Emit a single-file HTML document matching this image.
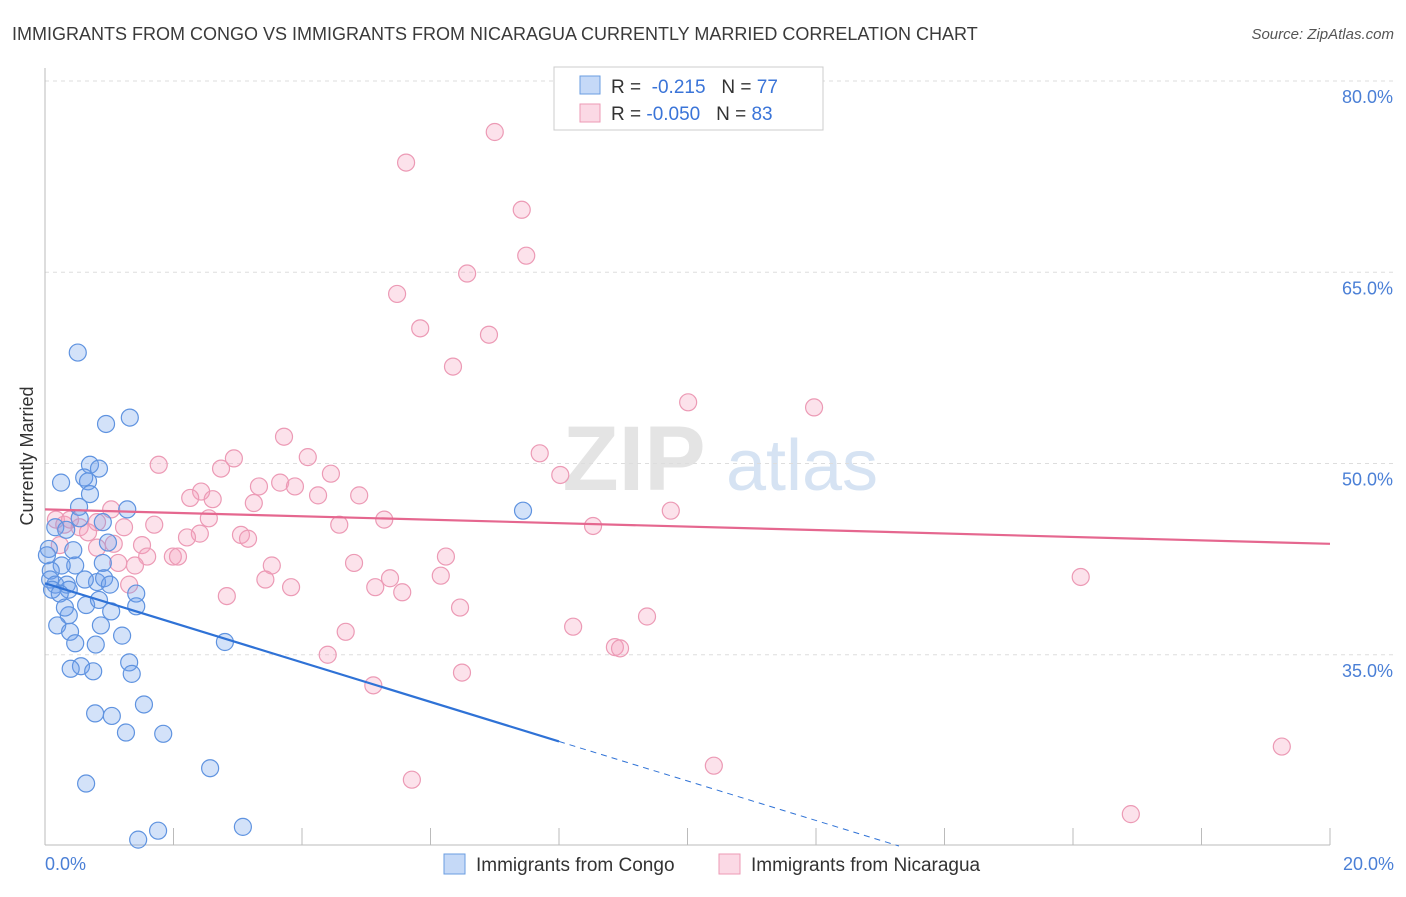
<!DOCTYPE html>
<html><head><meta charset="utf-8"><style>
body{margin:0;background:#fff;font-family:"Liberation Sans",sans-serif}
svg text{font-family:"Liberation Sans",sans-serif}
</style></head><body>
<svg id="chart" width="1406" height="892" xmlns="http://www.w3.org/2000/svg">
<text x="12" y="40" font-size="18" fill="#3a3a3a">IMMIGRANTS FROM CONGO VS IMMIGRANTS FROM NICARAGUA CURRENTLY MARRIED CORRELATION CHART</text>
<text x="1394" y="39" font-size="15" fill="#555" text-anchor="end" font-style="italic">Source: ZipAtlas.com</text>
<g>
<text x="634" y="490" font-size="92" fill="#e4e4e4" font-family="Liberation Serif" text-anchor="middle" font-weight="bold">ZIP</text>
<text x="802" y="490" font-size="72" fill="#d6e3f3" text-anchor="middle">atlas</text>
</g>
<g id="grid"></g>
<g id="axes"></g>
<g id="points"></g>
<g id="trends"></g>
<text transform="translate(33,456) rotate(-90)" font-size="18" fill="#333" text-anchor="middle">Currently Married</text>
<g>
<rect x="554" y="67" width="269" height="63" fill="#fff" stroke="#ccc"/>
<rect x="580" y="76" width="20" height="18" fill="rgba(110,160,235,0.4)" stroke="#6a9de0"/>
<rect x="580" y="104" width="20" height="18" fill="rgba(245,160,190,0.4)" stroke="#ec9ab5"/>
<text x="611" y="93" font-size="19" fill="#333">R = <tspan fill="#3a74d8">&#160;-0.215</tspan>&#160;&#160;&#160;N = <tspan fill="#3a74d8">77</tspan></text>
<text x="611" y="120" font-size="19" fill="#333">R = <tspan fill="#3a74d8">-0.050</tspan>&#160;&#160;&#160;N = <tspan fill="#3a74d8">83</tspan></text>
</g>
<g>
<rect x="444" y="854" width="21" height="20" fill="rgba(110,160,235,0.4)" stroke="#6a9de0"/>
<text x="476" y="871" font-size="19" fill="#333">Immigrants from Congo</text>
<rect x="719" y="854" width="21" height="20" fill="rgba(245,160,190,0.4)" stroke="#ec9ab5"/>
<text x="751" y="871" font-size="19" fill="#333">Immigrants from Nicaragua</text>
</g>
</svg>
<script>
const yTicks=[80,65,50,35];
const yTickLabels=["80.0%","65.0%","50.0%","35.0%"];
const xTickVals=[0,2,4,6,8,10,12,14,16,18,20];
const xEndLabels=["0.0%","20.0%"];
const congoX=[0.51,1.32,0.95,0.70,0.84,0.25,0.61,0.67,0.70,1.28,7.44,0.53,0.54,0.90,0.16,0.33,0.06,0.98,0.44,0.90,0.47,0.26,0.09,0.08,0.16,0.34,0.37,0.11,0.23,0.81,0.92,1.01,1.42,0.64,1.42,1.03,0.37,0.19,0.87,0.39,0.47,1.20,0.79,1.31,0.56,0.40,0.75,1.35,2.80,1.54,0.78,1.04,1.26,1.84,2.57,0.64,1.76,3.08,1.45,0.62,0.84,0.31,0.03];
const congoY=[58.7,53.6,53.1,49.9,49.6,48.5,48.9,48.6,47.6,46.4,46.3,46.6,45.7,45.4,45.0,44.8,43.3,43.8,43.2,42.2,42.0,42.0,41.6,40.9,40.5,40.5,40.1,40.1,39.8,40.7,41.0,40.5,39.8,38.9,38.8,38.4,38.1,37.3,37.3,36.8,35.9,36.5,35.8,34.4,34.1,33.9,33.7,33.5,36.0,31.1,30.4,30.2,28.9,28.8,26.1,24.9,21.2,21.5,20.5,40.9,39.3,38.7,42.8];
const nicX=[7.00,5.62,7.42,7.49,6.57,5.48,5.84,6.91,6.35,10.01,11.97,3.72,7.70,2.94,4.09,1.77,2.74,4.45,8.02,3.66,3.89,3.33,2.43,2.26,2.61,4.25,4.89,3.25,1.03,9.74,2.55,5.28,0.17,0.30,0.54,0.81,1.23,1.70,4.58,8.53,2.41,2.21,3.05,3.16,0.67,1.07,1.51,0.81,6.24,1.99,2.07,1.59,1.14,1.40,3.53,4.81,6.16,3.43,5.37,5.14,1.31,3.83,5.56,2.83,6.46,9.37,8.22,4.68,8.87,8.95,4.40,6.49,5.11,16.12,19.25,10.41,5.71,16.90,0.23,0.39];
const nicY=[76.0,73.6,69.9,66.3,64.9,63.3,60.6,60.1,57.6,54.8,54.4,52.1,50.8,50.4,50.5,49.9,49.6,49.2,49.1,48.5,48.2,48.2,47.8,47.3,47.2,47.5,47.5,46.9,46.4,46.3,45.7,45.6,45.6,45.2,45.0,45.4,45.0,45.2,45.2,45.1,44.5,44.2,44.4,44.1,44.6,43.7,43.6,43.4,42.7,42.7,42.7,42.7,42.2,42.0,42.0,42.2,41.2,40.9,41.0,40.3,40.5,40.3,39.9,39.6,38.7,38.0,37.2,36.8,35.6,35.5,35.0,33.6,32.6,41.1,27.8,26.3,25.2,22.5,43.6,45.6];
const congoTrend=[40.6,28.2,20.0]; // at x=0, x=8 (solid end), dashed continues
const nicTrend=[46.4,43.7]; // at x=0, x=20

const NS="http://www.w3.org/2000/svg";
const sx=v=>45+v*64.25;
const sy=v=>81+(80-v)*12.75;
function mk(tag,attrs,parent){const e=document.createElementNS(NS,tag);for(const k in attrs)e.setAttribute(k,attrs[k]);document.getElementById(parent).appendChild(e);return e;}
yTicks.forEach((t,i)=>{
  const g=mk('line',{x1:45,x2:1394,y1:sy(t),y2:sy(t),stroke:'#ddd','stroke-dasharray':'4,4'},'grid');
  
  
  const l=mk('text',{x:1393,y:sy(t)+22,'font-size':18,fill:'#4a7fd6','text-anchor':'end'},'axes');
  l.textContent=yTickLabels[i];
  
  
});
const ax=mk('line',{x1:45,x2:45,y1:68,y2:845,stroke:'#bbb'},'axes');


const bx=mk('line',{x1:45,x2:1330,y1:845,y2:845,stroke:'#bbb'},'axes');


xTickVals.forEach(v=>{
  const t=mk('line',{x1:sx(v),x2:sx(v),y1:828,y2:845,stroke:'#bbb'},'axes');
  
  
});
[[0,'start',45],[20,'end',1394]].forEach((a,i)=>{
  const l=mk('text',{x:a[2],y:870,'font-size':18,fill:'#4a7fd6','text-anchor':a[1]},'axes');
  l.textContent=xEndLabels[i];
  
  
});
nicX.forEach((x,i)=>{
  const c=mk('circle',{cx:sx(x),cy:sy(nicY[i]),r:8.5,fill:'rgba(245,160,190,0.3)',stroke:'#ec9ab5','stroke-width':1.2},'points');
  
  
});
congoX.forEach((x,i)=>{
  const c=mk('circle',{cx:sx(x),cy:sy(congoY[i]),r:8.5,fill:'rgba(110,160,235,0.3)',stroke:'#5f93e0','stroke-width':1.2},'points');
  
  
});
const slope=(congoTrend[1]-congoTrend[0])/8;
const xEnd=(congoTrend[2]-congoTrend[0])/slope;
const t1=mk('line',{x1:sx(0),y1:sy(congoTrend[0]),x2:sx(8),y2:sy(congoTrend[1]),stroke:'#2f72d6','stroke-width':2.2},'trends');


const t2=mk('line',{x1:sx(8),y1:sy(congoTrend[1]),x2:sx(xEnd),y2:sy(congoTrend[2]),stroke:'#2f72d6','stroke-width':1,'stroke-dasharray':'6,5'},'trends');


const t3=mk('line',{x1:sx(0),y1:sy(nicTrend[0]),x2:sx(20),y2:sy(nicTrend[1]),stroke:'#e5678f','stroke-width':2.2},'trends');


</script>
</body></html>
